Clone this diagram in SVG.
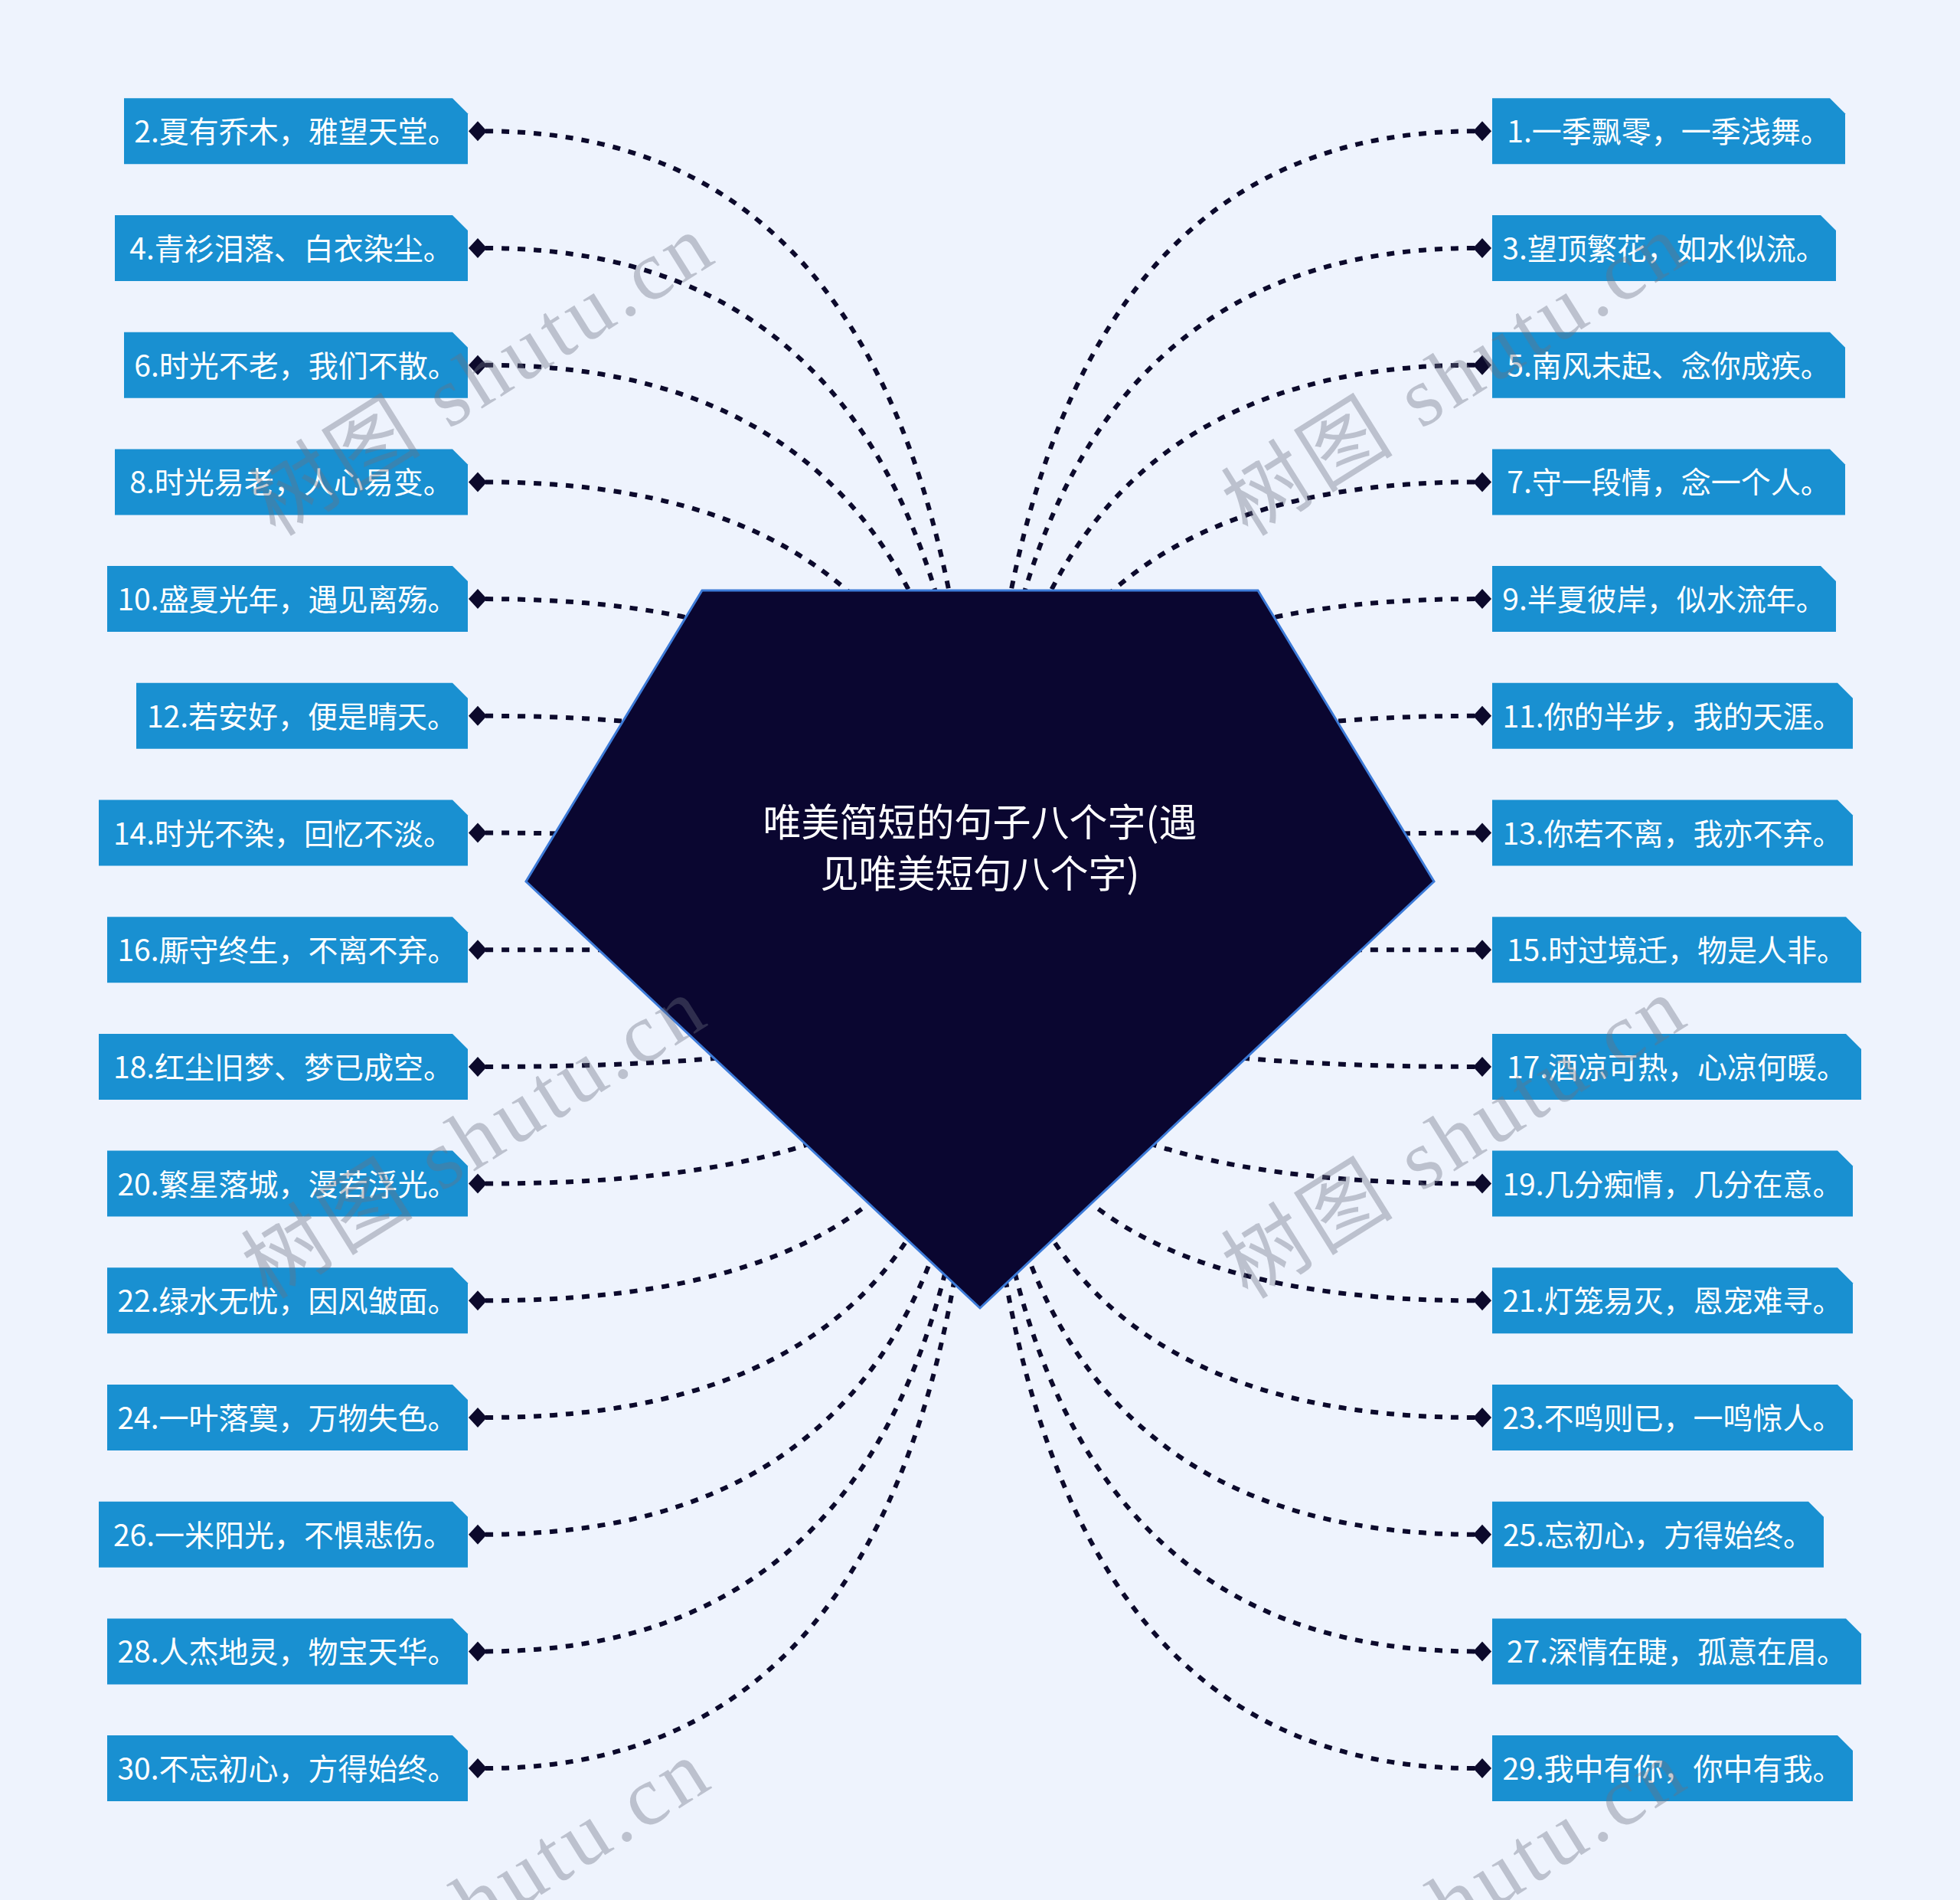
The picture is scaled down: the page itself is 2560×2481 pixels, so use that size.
<svg xmlns="http://www.w3.org/2000/svg" xmlns:xlink="http://www.w3.org/1999/xlink" width="2560" height="2481" viewBox="0 0 2560 2481">
<style>
.bg{fill:#eef3fd}
.conn{fill:none;stroke:#0c0a2c;stroke-width:6;stroke-dasharray:10 11}
.box{fill:#1990d1}
.lbl{font-family:"Noto Sans CJK SC","Noto Sans",sans-serif;font-size:39px;fill:#ffffff;text-anchor:middle}
.dia{fill:#0c0a2c}
.center{fill:#0a0630;stroke:#3d7bd8;stroke-width:3}
.title{font-family:"Noto Sans CJK SC","Noto Sans",sans-serif;font-size:50px;fill:#ffffff;text-anchor:middle}
.wm{font-family:"Liberation Serif","Noto Sans CJK SC",serif;font-size:110px;fill:#6b7080;fill-opacity:0.38}
</style>
<defs>
<path id="dia" d="M-12 0L0 -13L12 0L0 13Z"/>
</defs>
<rect class="bg" x="0" y="0" width="2560" height="2481"/>
<g id="connectors">
<path class="conn" d="M634 171.3Q1280 171.3 1280 1240"/>
<path class="conn" d="M634 324Q1280 324 1280 1240"/>
<path class="conn" d="M634 476.7Q1280 476.7 1280 1240"/>
<path class="conn" d="M634 629.4Q1280 629.4 1280 1240"/>
<path class="conn" d="M634 782.1Q1280 782.1 1280 1240"/>
<path class="conn" d="M634 934.8Q1280 934.8 1280 1240"/>
<path class="conn" d="M634 1087.5Q1280 1087.5 1280 1240"/>
<path class="conn" d="M634 1240.2Q1280 1240.2 1280 1240"/>
<path class="conn" d="M634 1392.9Q1280 1392.9 1280 1240"/>
<path class="conn" d="M634 1545.6Q1280 1545.6 1280 1240"/>
<path class="conn" d="M634 1698.3Q1280 1698.3 1280 1240"/>
<path class="conn" d="M634 1851Q1280 1851 1280 1240"/>
<path class="conn" d="M634 2003.7Q1280 2003.7 1280 1240"/>
<path class="conn" d="M634 2156.4Q1280 2156.4 1280 1240"/>
<path class="conn" d="M634 2309.1Q1280 2309.1 1280 1240"/>
<path class="conn" d="M1926 171.3Q1280 171.3 1280 1240"/>
<path class="conn" d="M1926 324Q1280 324 1280 1240"/>
<path class="conn" d="M1926 476.7Q1280 476.7 1280 1240"/>
<path class="conn" d="M1926 629.4Q1280 629.4 1280 1240"/>
<path class="conn" d="M1926 782.1Q1280 782.1 1280 1240"/>
<path class="conn" d="M1926 934.8Q1280 934.8 1280 1240"/>
<path class="conn" d="M1926 1087.5Q1280 1087.5 1280 1240"/>
<path class="conn" d="M1926 1240.2Q1280 1240.2 1280 1240"/>
<path class="conn" d="M1926 1392.9Q1280 1392.9 1280 1240"/>
<path class="conn" d="M1926 1545.6Q1280 1545.6 1280 1240"/>
<path class="conn" d="M1926 1698.3Q1280 1698.3 1280 1240"/>
<path class="conn" d="M1926 1851Q1280 1851 1280 1240"/>
<path class="conn" d="M1926 2003.7Q1280 2003.7 1280 1240"/>
<path class="conn" d="M1926 2156.4Q1280 2156.4 1280 1240"/>
<path class="conn" d="M1926 2309.1Q1280 2309.1 1280 1240"/>
</g>
<g id="root">
<polygon class="center" points="917,771 1643,771 1873,1151 1280,1708 687,1151"/>
<text class="title" x="1280" y="1092">唯美简短的句子八个字(遇</text>
<text class="title" x="1280" y="1159">见唯美短句八个字)</text>
</g>
<g id="n2"><polygon class="box" points="162,128.3 591,128.3 611,148.3 611,214.3 162,214.3"/><text class="lbl" x="386.5" y="186.3">2.夏有乔木，雅望天堂。</text><use href="#dia" class="dia" x="624" y="171.3"/></g>
<g id="n4"><polygon class="box" points="150,281 591,281 611,301 611,367 150,367"/><text class="lbl" x="380.5" y="339">4.青衫泪落、白衣染尘。</text><use href="#dia" class="dia" x="624" y="324"/></g>
<g id="n6"><polygon class="box" points="162,433.7 591,433.7 611,453.7 611,519.7 162,519.7"/><text class="lbl" x="386.5" y="491.7">6.时光不老，我们不散。</text><use href="#dia" class="dia" x="624" y="476.7"/></g>
<g id="n8"><polygon class="box" points="150,586.4 591,586.4 611,606.4 611,672.4 150,672.4"/><text class="lbl" x="380.5" y="644.4">8.时光易老，人心易变。</text><use href="#dia" class="dia" x="624" y="629.4"/></g>
<g id="n10"><polygon class="box" points="140,739.1 591,739.1 611,759.1 611,825.1 140,825.1"/><text class="lbl" x="375.5" y="797.1">10.盛夏光年，遇见离殇。</text><use href="#dia" class="dia" x="624" y="782.1"/></g>
<g id="n12"><polygon class="box" points="178,891.8 591,891.8 611,911.8 611,977.8 178,977.8"/><text class="lbl" x="394.5" y="949.8">12.若安好，便是晴天。</text><use href="#dia" class="dia" x="624" y="934.8"/></g>
<g id="n14"><polygon class="box" points="129,1044.5 591,1044.5 611,1064.5 611,1130.5 129,1130.5"/><text class="lbl" x="370" y="1102.5">14.时光不染，回忆不淡。</text><use href="#dia" class="dia" x="624" y="1087.5"/></g>
<g id="n16"><polygon class="box" points="140,1197.2 591,1197.2 611,1217.2 611,1283.2 140,1283.2"/><text class="lbl" x="375.5" y="1255.2">16.厮守终生，不离不弃。</text><use href="#dia" class="dia" x="624" y="1240.2"/></g>
<g id="n18"><polygon class="box" points="129,1349.9 591,1349.9 611,1369.9 611,1435.9 129,1435.9"/><text class="lbl" x="370" y="1407.9">18.红尘旧梦、梦已成空。</text><use href="#dia" class="dia" x="624" y="1392.9"/></g>
<g id="n20"><polygon class="box" points="140,1502.6 591,1502.6 611,1522.6 611,1588.6 140,1588.6"/><text class="lbl" x="375.5" y="1560.6">20.繁星落城，漫若浮光。</text><use href="#dia" class="dia" x="624" y="1545.6"/></g>
<g id="n22"><polygon class="box" points="140,1655.3 591,1655.3 611,1675.3 611,1741.3 140,1741.3"/><text class="lbl" x="375.5" y="1713.3">22.绿水无忧，因风皱面。</text><use href="#dia" class="dia" x="624" y="1698.3"/></g>
<g id="n24"><polygon class="box" points="140,1808 591,1808 611,1828 611,1894 140,1894"/><text class="lbl" x="375.5" y="1866">24.一叶落寞，万物失色。</text><use href="#dia" class="dia" x="624" y="1851"/></g>
<g id="n26"><polygon class="box" points="129,1960.7 591,1960.7 611,1980.7 611,2046.7 129,2046.7"/><text class="lbl" x="370" y="2018.7">26.一米阳光，不惧悲伤。</text><use href="#dia" class="dia" x="624" y="2003.7"/></g>
<g id="n28"><polygon class="box" points="140,2113.4 591,2113.4 611,2133.4 611,2199.4 140,2199.4"/><text class="lbl" x="375.5" y="2171.4">28.人杰地灵，物宝天华。</text><use href="#dia" class="dia" x="624" y="2156.4"/></g>
<g id="n30"><polygon class="box" points="140,2266.1 591,2266.1 611,2286.1 611,2352.1 140,2352.1"/><text class="lbl" x="375.5" y="2324.1">30.不忘初心，方得始终。</text><use href="#dia" class="dia" x="624" y="2309.1"/></g>
<g id="n1"><polygon class="box" points="1949,128.3 2390,128.3 2410,148.3 2410,214.3 1949,214.3"/><text class="lbl" x="2179.5" y="186.3">1.一季飘零，一季浅舞。</text><use href="#dia" class="dia" x="1936" y="171.3"/></g>
<g id="n3"><polygon class="box" points="1949,281 2378,281 2398,301 2398,367 1949,367"/><text class="lbl" x="2173.5" y="339">3.望顶繁花，如水似流。</text><use href="#dia" class="dia" x="1936" y="324"/></g>
<g id="n5"><polygon class="box" points="1949,433.7 2390,433.7 2410,453.7 2410,519.7 1949,519.7"/><text class="lbl" x="2179.5" y="491.7">5.南风未起、念你成疾。</text><use href="#dia" class="dia" x="1936" y="476.7"/></g>
<g id="n7"><polygon class="box" points="1949,586.4 2390,586.4 2410,606.4 2410,672.4 1949,672.4"/><text class="lbl" x="2179.5" y="644.4">7.守一段情，念一个人。</text><use href="#dia" class="dia" x="1936" y="629.4"/></g>
<g id="n9"><polygon class="box" points="1949,739.1 2378,739.1 2398,759.1 2398,825.1 1949,825.1"/><text class="lbl" x="2173.5" y="797.1">9.半夏彼岸，似水流年。</text><use href="#dia" class="dia" x="1936" y="782.1"/></g>
<g id="n11"><polygon class="box" points="1949,891.8 2400,891.8 2420,911.8 2420,977.8 1949,977.8"/><text class="lbl" x="2184.5" y="949.8">11.你的半步，我的天涯。</text><use href="#dia" class="dia" x="1936" y="934.8"/></g>
<g id="n13"><polygon class="box" points="1949,1044.5 2400,1044.5 2420,1064.5 2420,1130.5 1949,1130.5"/><text class="lbl" x="2184.5" y="1102.5">13.你若不离，我亦不弃。</text><use href="#dia" class="dia" x="1936" y="1087.5"/></g>
<g id="n15"><polygon class="box" points="1949,1197.2 2411,1197.2 2431,1217.2 2431,1283.2 1949,1283.2"/><text class="lbl" x="2190" y="1255.2">15.时过境迁，物是人非。</text><use href="#dia" class="dia" x="1936" y="1240.2"/></g>
<g id="n17"><polygon class="box" points="1949,1349.9 2411,1349.9 2431,1369.9 2431,1435.9 1949,1435.9"/><text class="lbl" x="2190" y="1407.9">17.酒凉可热，心凉何暖。</text><use href="#dia" class="dia" x="1936" y="1392.9"/></g>
<g id="n19"><polygon class="box" points="1949,1502.6 2400,1502.6 2420,1522.6 2420,1588.6 1949,1588.6"/><text class="lbl" x="2184.5" y="1560.6">19.几分痴情，几分在意。</text><use href="#dia" class="dia" x="1936" y="1545.6"/></g>
<g id="n21"><polygon class="box" points="1949,1655.3 2400,1655.3 2420,1675.3 2420,1741.3 1949,1741.3"/><text class="lbl" x="2184.5" y="1713.3">21.灯笼易灭，恩宠难寻。</text><use href="#dia" class="dia" x="1936" y="1698.3"/></g>
<g id="n23"><polygon class="box" points="1949,1808 2400,1808 2420,1828 2420,1894 1949,1894"/><text class="lbl" x="2184.5" y="1866">23.不鸣则已，一鸣惊人。</text><use href="#dia" class="dia" x="1936" y="1851"/></g>
<g id="n25"><polygon class="box" points="1949,1960.7 2362,1960.7 2382,1980.7 2382,2046.7 1949,2046.7"/><text class="lbl" x="2165.5" y="2018.7">25.忘初心，方得始终。</text><use href="#dia" class="dia" x="1936" y="2003.7"/></g>
<g id="n27"><polygon class="box" points="1949,2113.4 2411,2113.4 2431,2133.4 2431,2199.4 1949,2199.4"/><text class="lbl" x="2190" y="2171.4">27.深情在睫，孤意在眉。</text><use href="#dia" class="dia" x="1936" y="2156.4"/></g>
<g id="n29"><polygon class="box" points="1949,2266.1 2400,2266.1 2420,2286.1 2420,2352.1 1949,2352.1"/><text class="lbl" x="2184.5" y="2324.1">29.我中有你，你中有我。</text><use href="#dia" class="dia" x="1936" y="2309.1"/></g>
<g id="watermarks">
<text class="wm" transform="translate(360,702) rotate(-32)" textLength="680" lengthAdjust="spacing">树图 shutu.cn</text>
<text class="wm" transform="translate(1630,702) rotate(-32)" textLength="680" lengthAdjust="spacing">树图 shutu.cn</text>
<text class="wm" transform="translate(350,1698) rotate(-32)" textLength="680" lengthAdjust="spacing">树图 shutu.cn</text>
<text class="wm" transform="translate(1630,1698) rotate(-32)" textLength="680" lengthAdjust="spacing">树图 shutu.cn</text>
<text class="wm" transform="translate(355,2694) rotate(-32)" textLength="680" lengthAdjust="spacing">树图 shutu.cn</text>
<text class="wm" transform="translate(1630,2694) rotate(-32)" textLength="680" lengthAdjust="spacing">树图 shutu.cn</text>
</g>
</svg>
